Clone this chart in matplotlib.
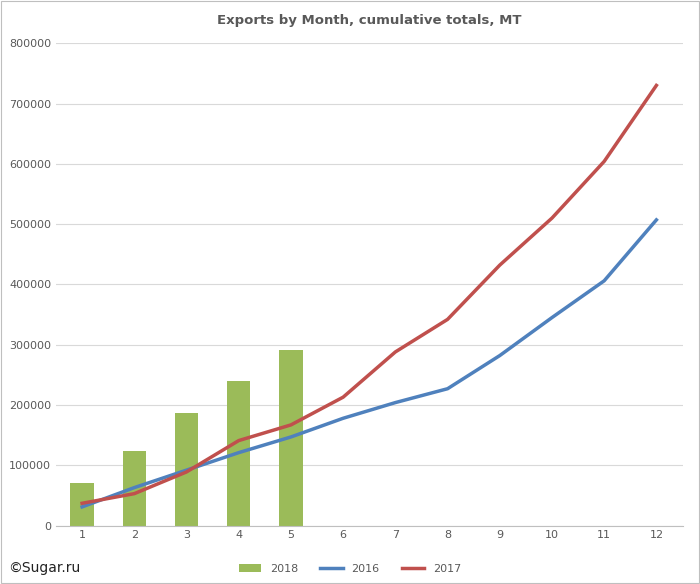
import matplotlib.pyplot as plt

months = list(range(1, 13))
exports_2018 = [70000, 124000, 187000, 239000, 292000]
exports_2016 = [31000, 63000, 92000, 121000, 147000, 178000, 204000, 227000, 282000, 345000, 406000, 507000]
exports_2017 = [37000, 53000, 89000, 141000, 167000, 213000, 288000, 342000, 432000, 510000, 604000, 730000]


def main():
    fig = plt.figure(figsize=(7.0, 5.84), dpi=100)
    ax = fig.add_axes([0.08, 0.10, 0.895, 0.826])
    b = ax.bar(months[:len(exports_2018)], exports_2018, width=0.45, color='#9bbb59', label='2018', zorder=2)
    l1, = ax.plot(months, exports_2016, color='#4f81bd', lw=2.5, label='2016', zorder=3)
    l2, = ax.plot(months, exports_2017, color='#c0504d', lw=2.5, label='2017', zorder=4)
    ax.set_xlim(0.5, 12.5)
    ax.set_ylim(0, 800000)
    ax.set_xticks(months)
    ax.set_yticks(range(0, 800001, 100000))
    ax.tick_params(axis='both', length=0, labelsize=8, colors='#595959')
    ax.grid(axis='y', color='#d9d9d9', lw=0.8, zorder=0)
    for s in ['top', 'right', 'left']:
        ax.spines[s].set_visible(False)
    ax.spines['bottom'].set_color('#bfbfbf')
    ax.set_title('Exports by Month, cumulative totals, MT', fontsize=9.5, fontweight='bold',
                 color='#595959', pad=14)
    fig.legend(handles=[b, l1, l2], loc='lower center', ncol=3, frameon=False, fontsize=8,
               bbox_to_anchor=(0.5, 0.0), labelcolor='#595959')
    fig.text(0.012, 0.02, '©Sugar.ru', fontsize=10, color='#222222')
    fig.patches.append(plt.Rectangle((0.002, 0.002), 0.996, 0.996, transform=fig.transFigure,
                                     fill=False, edgecolor='#bfbfbf', lw=0.8))
    fig.savefig('out.png')


if __name__ == '__main__':
    main()
